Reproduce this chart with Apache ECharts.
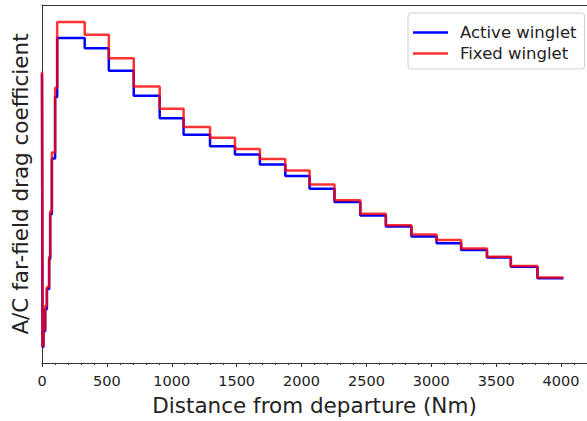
<!DOCTYPE html>
<html>
<head>
<meta charset="utf-8">
<script src="https://cdn.jsdelivr.net/npm/echarts@6/dist/echarts.min.js"></script>
<style>
html,body{margin:0;padding:0;background:#fff;}
#chart{width:587px;height:421px;}
</style>
</head>
<body>
<div id="chart"></div>
<script>
// Distance from departure (Nm) at which each step level begins (steps-post)
const distanceNm = [0, 4, 11.5, 24.5, 37.6, 55, 63, 76, 101, 117, 329, 515, 707, 907, 1091, 1295, 1487, 1679, 1875, 2062, 2254, 2453, 2650, 2847, 3041, 3230, 3429, 3613, 3818, 4018];
// A/C far-field drag coefficient, active winglet
const activeCd = [0.02727, 0.02040, 0.02080, 0.02135, 0.02186, 0.02261, 0.02374, 0.02514, 0.02669, 0.02817, 0.02791, 0.02735, 0.02672, 0.02615, 0.02574, 0.02545, 0.02524, 0.02499, 0.02470, 0.02438, 0.02405, 0.02371, 0.02343, 0.02318, 0.02301, 0.02284, 0.02265, 0.02242, 0.02213, 0.02213];
// A/C far-field drag coefficient, fixed winglet
const fixedCd = [0.02732, 0.02043, 0.02085, 0.02143, 0.02191, 0.02268, 0.02381, 0.02529, 0.02692, 0.02857, 0.02825, 0.02766, 0.02695, 0.02639, 0.02593, 0.02566, 0.02538, 0.02513, 0.02484, 0.02449, 0.02409, 0.02375, 0.02346, 0.02323, 0.02309, 0.02288, 0.02267, 0.02244, 0.02215, 0.02215];
const seriesNames = ['Active winglet', 'Fixed winglet'];
const xTicks = [0, 500, 1000, 1500, 2000, 2500, 3000, 3500, 4000];

const FONT = 'DejaVu Sans';
const TXT = '#222';
const xMax = 4200;

const chart = echarts.init(document.getElementById('chart'), null, {renderer: 'svg'});
const pairs = (ys) => distanceNm.map((d, i) => [d, ys[i]]);

chart.setOption({
  animation: false,
  backgroundColor: '#fff',
  grid: {left: 42, top: 5, right: -6, bottom: 57, containLabel: false},
  legend: {
    orient: 'vertical',
    left: 408, top: 13,
    data: seriesNames,
    itemWidth: 35, itemHeight: 14, itemGap: 4,
    padding: [11, 8, 7, 5],
    borderColor: '#d0d0d0', borderWidth: 1, borderRadius: 3,
    backgroundColor: 'rgba(255,255,255,0.8)',
    textStyle: {fontFamily: FONT, fontSize: 16.5, color: TXT, padding: [0, 0, 0, 7]},
    icon: 'path://M0,6 L35,6 L35,8.5 L0,8.5 Z'
  },
  xAxis: [
    {
      type: 'value', min: 0, max: xMax, interval: 500, position: 'bottom',
      name: 'Distance from departure (Nm)', nameLocation: 'middle', nameGap: 31,
      nameTextStyle: {fontFamily: FONT, fontSize: 21.5, color: TXT},
      axisLine: {show: true, lineStyle: {color: '#333', width: 1}},
      axisTick: {show: true, inside: false, length: 4, lineStyle: {color: '#333'}},
      axisLabel: {show: true, showMaxLabel: false, margin: 10, fontFamily: FONT, fontSize: 14.5, color: TXT,
        formatter: (v) => xTicks.indexOf(v) >= 0 ? String(v) : ''},
      splitLine: {show: false}
    },
    {
      type: 'value', min: 0, max: xMax, interval: 100, position: 'bottom', gridIndex: 0,
      axisLine: {show: false},
      axisTick: {show: true, inside: false, length: 2, lineStyle: {color: '#333'}},
      axisLabel: {show: false},
      splitLine: {show: false}
    },
    {
      type: 'value', min: 0, max: xMax, position: 'top', gridIndex: 0,
      axisLine: {show: true, lineStyle: {color: '#333', width: 1}},
      axisTick: {show: false}, axisLabel: {show: false}, splitLine: {show: false}
    }
  ],
  yAxis: {
    type: 'value', min: 0.0200, max: 0.0290,
    name: 'A/C far-field drag coefficient', nameLocation: 'middle', nameGap: 11,
    nameTextStyle: {fontFamily: FONT, fontSize: 21.5, color: TXT},
    axisLine: {show: true, lineStyle: {color: '#333', width: 1}},
    axisTick: {show: false}, axisLabel: {show: false}, splitLine: {show: false}
  },
  series: [
    {
      name: seriesNames[0], type: 'line', step: 'end', xAxisIndex: 0,
      data: pairs(activeCd), showSymbol: false, symbol: 'none',
      lineStyle: {color: '#0000ff', width: 2.5}, itemStyle: {color: '#0000ff'}, z: 2
    },
    {
      name: seriesNames[1], type: 'line', step: 'end', xAxisIndex: 0,
      data: pairs(fixedCd), showSymbol: false, symbol: 'none',
      lineStyle: {color: 'rgba(255,0,0,0.8)', width: 2.5}, itemStyle: {color: 'rgba(255,0,0,0.8)'}, z: 3
    }
  ]
});
</script>
</body>
</html>
